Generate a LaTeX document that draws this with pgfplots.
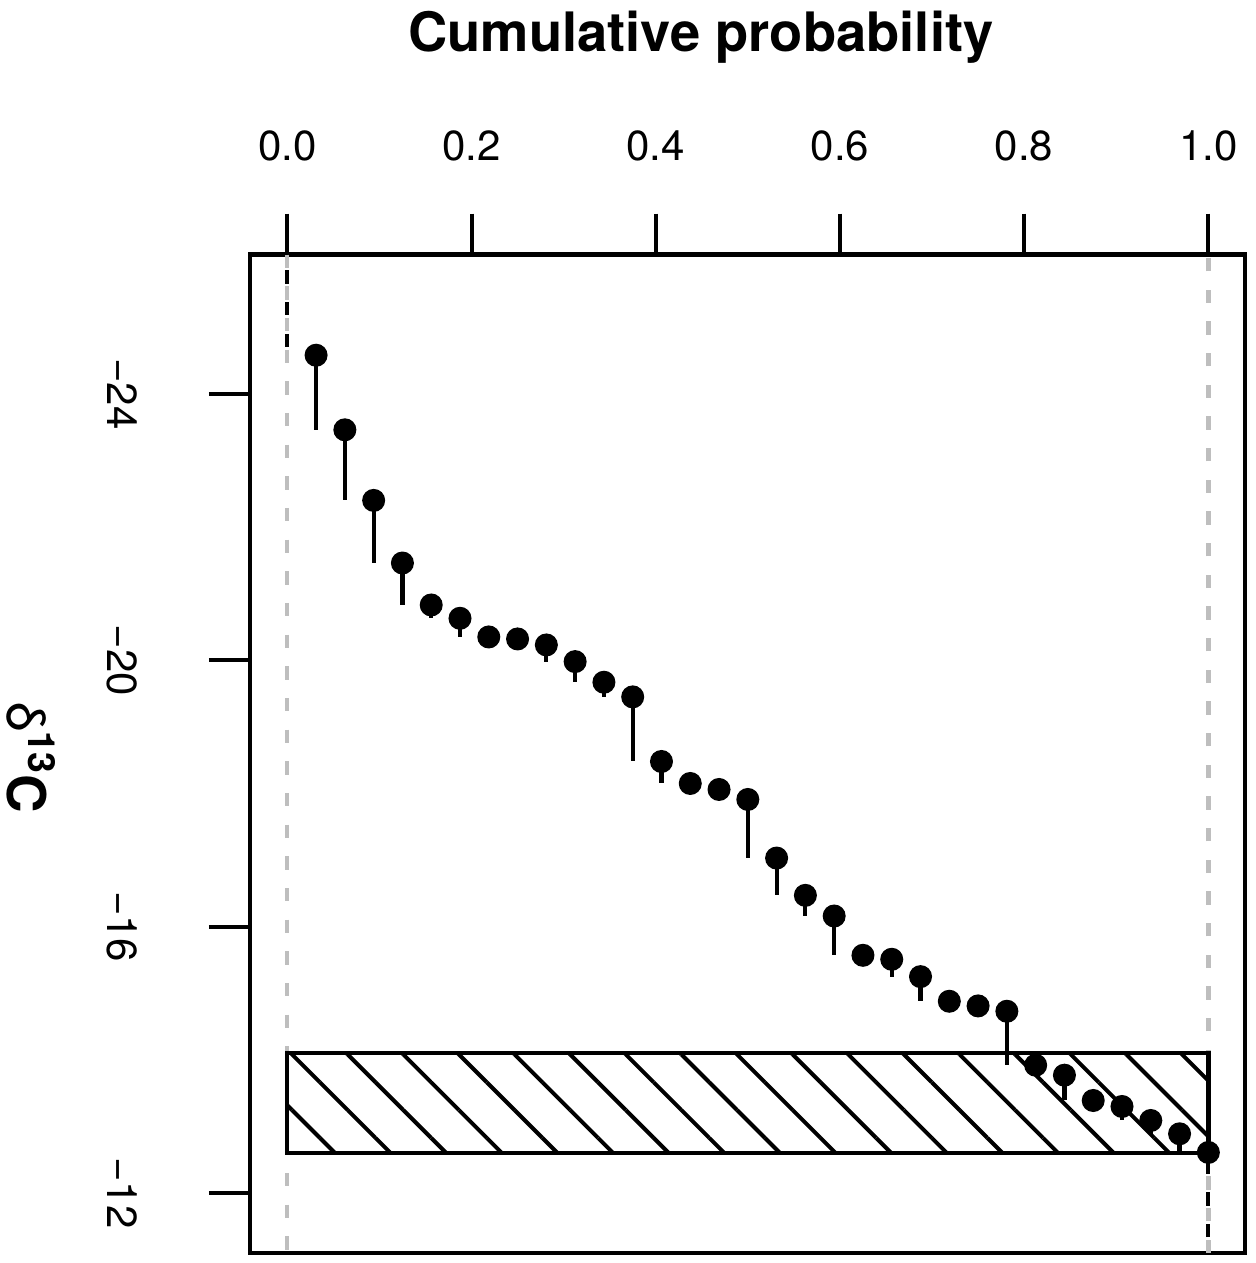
\documentclass[border=0pt]{standalone}
\usepackage{fontspec}
\setmainfont{TeX Gyre Heros}
\usepackage{pgfplots}
\pgfplotsset{compat=1.18}
\usepackage{pgfplotstable}
\usetikzlibrary{patterns.meta}
\definecolor{rgray}{RGB}{190,190,190}

\pgfplotstableread{
x        y       dy
0.03125  -24.58  1.12
0.0625   -23.46  1.06
0.09375  -22.40  0.94
0.125    -21.46  0.63
0.15625  -20.83  0.20
0.1875   -20.63  0.28
0.21875  -20.35  0.03
0.25     -20.32  0.09
0.28125  -20.23  0.25
0.3125   -19.98  0.31
0.34375  -19.67  0.22
0.375    -19.45  0.97
0.40625  -18.48  0.33
0.4375   -18.15  0.09
0.46875  -18.06  0.15
0.5      -17.91  0.88
0.53125  -17.03  0.56
0.5625   -16.47  0.31
0.59375  -16.16  0.59
0.625    -15.57  0.06
0.65625  -15.51  0.26
0.6875   -15.25  0.37
0.71875  -14.88  0.07
0.75     -14.81  0.08
0.78125  -14.73  0.81
0.8125   -13.92  0.15
0.84375  -13.77  0.38
0.875    -13.39  0.09
0.90625  -13.30  0.21
0.9375   -13.09  0.20
0.96875  -12.89  0.28
1.0      -12.61  0.00
}\ecdf

\begin{document}
\begin{tikzpicture}
\begin{axis}[
  at={(0,0)}, anchor=south west,
  scale only axis, width=298.5pt, height=299.5pt,
  xmin=-0.0405, xmax=1.0398,
  ymin=-26.09, ymax=-11.10, y dir=reverse,
  axis line style={line width=1.3pt},
  xtick={0,0.2,0.4,0.6,0.8,1},
  xticklabels={0.0,0.2,0.4,0.6,0.8,1.0},
  ytick={-24,-20,-16,-12},
  yticklabels={−24,−20,−16,−12},
  xtick pos=right, xticklabel pos=right,
  ytick pos=left, yticklabel pos=left,
  tick align=outside, major tick length=12.3pt,
  every tick/.style={black, line width=1.2pt},
  tick label style={font=\fontsize{12.6}{15}\selectfont},
  xticklabel style={anchor=base},
  yticklabel style={rotate=-90, anchor=base},
  xticklabel shift=15.9pt,
  yticklabel shift=30.3pt,
]
\addplot[rgray, line width=1.3pt, dash pattern=on 4pt off 5.5pt] coordinates {(0,-26.09) (0,-11.10)};
\addplot[rgray, line width=1.3pt, dash pattern=on 4pt off 5.5pt] coordinates {(1,-11.10) (1,-26.09)};
\addplot[black, line width=1.2pt, dash pattern=on 4pt off 5.5pt, dash phase=4.75pt] coordinates {(0,-26.09) (0,-24.58)};
\addplot[black, line width=1.2pt, dash pattern=on 4pt off 5.5pt, dash phase=4.75pt] coordinates {(1,-11.10) (1,-12.61)};
\addplot[only marks, mark=*, mark size=3.25pt, black,
  error bars/.cd, y dir=plus, y explicit, error mark=none,
  error bar style={line width=1.25pt, black}]
  table[x=x, y=y, y error=dy] {\ecdf};
\addplot[draw=black, line width=1.3pt, pattern={Lines[angle=-45,distance=11.8pt,line width=1.2pt]}]
  coordinates {(0,-14.1) (1,-14.1) (1,-12.6) (0,-12.6)} -- cycle;
\end{axis}
\node[anchor=base, font=\bfseries\fontsize{16.3}{19}\selectfont] at (135.3pt,360.3pt) {Cumulative probability};
\node[anchor=base, rotate=-90, font=\fontsize{16}{19}\selectfont] at (-72.6pt,148.5pt) {δ\textsuperscript{\bfseries 13}\textbf{C}};
\pgfresetboundingbox
\useasboundingbox (-75pt,-3pt) rectangle (301.5pt,375.9pt);
\end{tikzpicture}
\end{document}
